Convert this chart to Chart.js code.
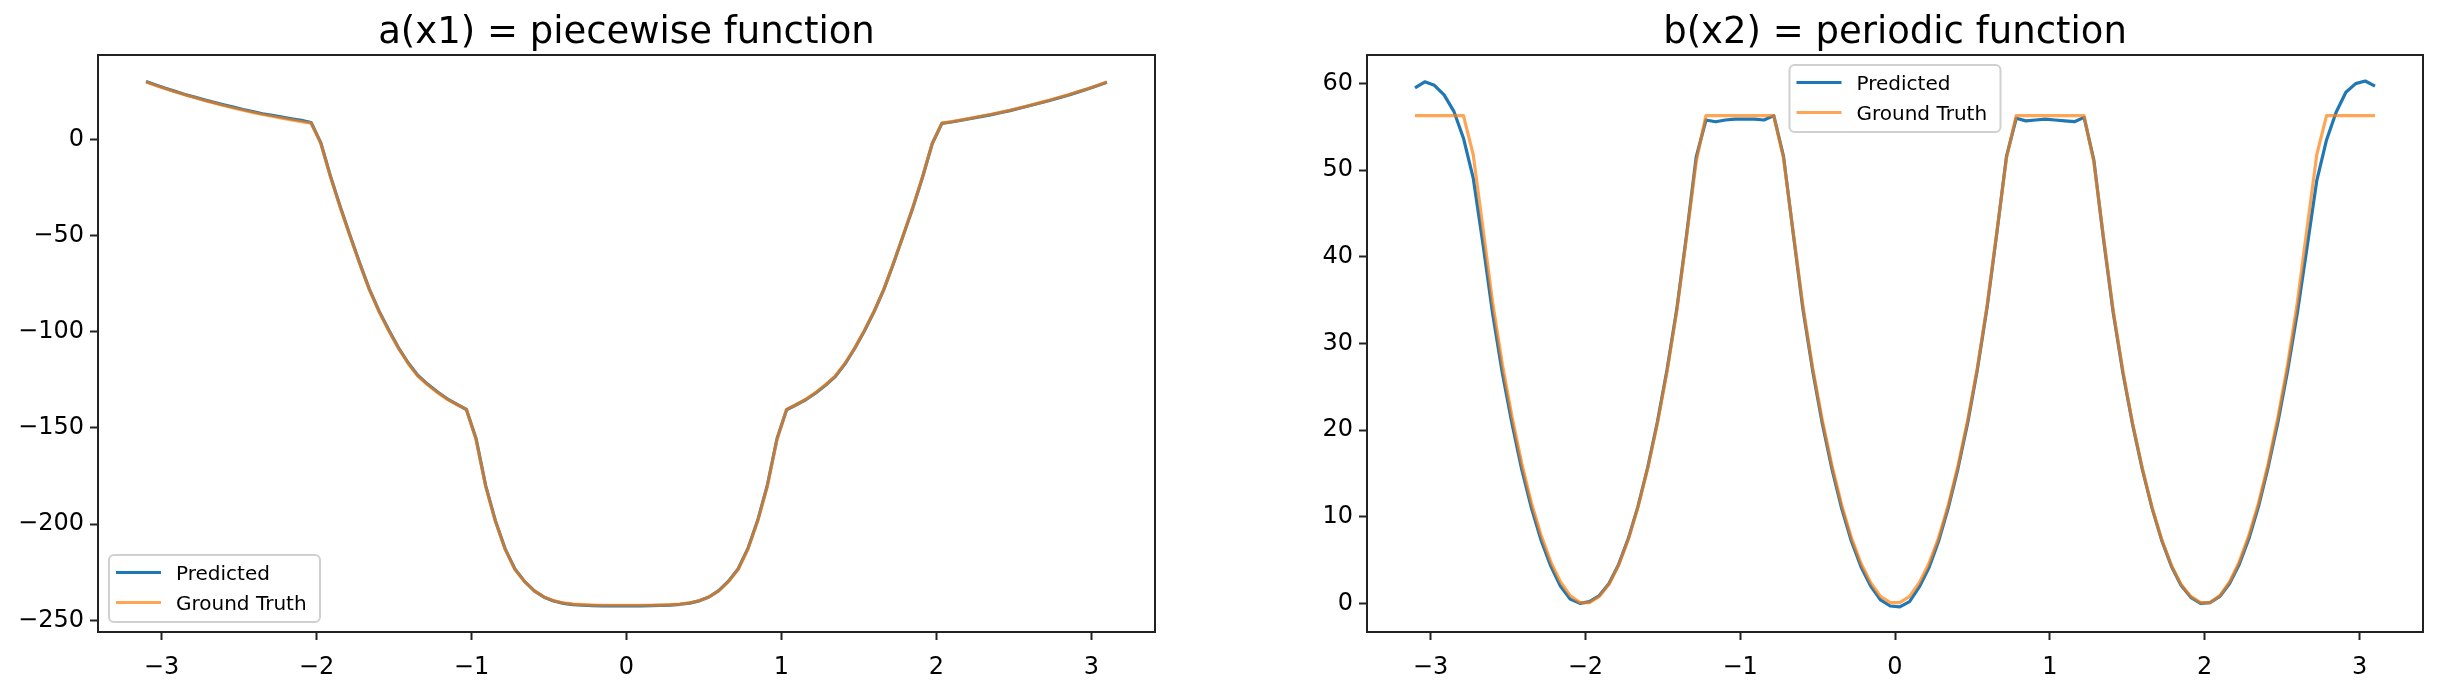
<!DOCTYPE html>
<html>
<head>
<meta charset="utf-8">
<script src="https://cdn.jsdelivr.net/npm/chart.js@4.4.1/dist/chart.umd.min.js"></script>
<style>
  html, body { margin: 0; padding: 0; background: #fff; }
  #wrap { position: relative; width: 2438px; height: 686px; }
  canvas { position: absolute; top: 0; }
</style>
</head>
<body>
<div id="wrap">
  <canvas id="chartA" width="1219" height="686" style="left:0"></canvas>
  <canvas id="chartB" width="1219" height="686" style="left:1219px"></canvas>
</div>
<script>
// sample positions (same for both panels)
const xs = [
  -3.100, -3.037, -2.975, -2.912, -2.849, -2.787, -2.724, -2.662, -2.599, -2.536,
  -2.474, -2.411, -2.348, -2.286, -2.223, -2.161, -2.098, -2.035, -1.973, -1.910,
  -1.847, -1.785, -1.722, -1.660, -1.597, -1.534, -1.472, -1.409, -1.347, -1.284,
  -1.221, -1.159, -1.096, -1.033, -0.971, -0.908, -0.846, -0.783, -0.720, -0.658,
  -0.595, -0.532, -0.470, -0.407, -0.345, -0.282, -0.219, -0.157, -0.094, -0.031,
  0.031, 0.094, 0.157, 0.219, 0.282, 0.345, 0.407, 0.470, 0.532, 0.595,
  0.658, 0.720, 0.783, 0.846, 0.908, 0.971, 1.033, 1.096, 1.159, 1.221,
  1.284, 1.347, 1.409, 1.472, 1.534, 1.597, 1.660, 1.722, 1.785, 1.847,
  1.910, 1.973, 2.035, 2.098, 2.161, 2.223, 2.286, 2.348, 2.411, 2.474,
  2.536, 2.599, 2.662, 2.724, 2.787, 2.849, 2.912, 2.975, 3.037, 3.100
];

// a(x1) = piecewise function
const aPred = [
  30.0, 28.2, 26.5, 24.9, 23.3, 21.9, 20.5, 19.2, 17.9, 16.7,
  15.5, 14.4, 13.3, 12.4, 11.5, 10.6, 9.8, 8.7, -1.7, -19.2,
  -35.1, -49.7, -64.2, -77.7, -89.2, -99.1, -108.2, -116.1, -122.6, -127.2,
  -131.2, -134.7, -137.6, -140.4, -155.4, -180.2, -198.2, -212.8, -223.3, -229.7,
  -234.6, -237.9, -239.9, -241.1, -241.8, -242.1, -242.3, -242.4, -242.4, -242.4,
  -242.4, -242.4, -242.3, -242.2, -242.0, -241.6, -241.0, -239.8, -237.8, -234.5,
  -229.6, -223.3, -212.7, -198.1, -180.0, -155.6, -140.5, -137.9, -135.2, -131.8,
  -127.8, -123.3, -116.8, -108.7, -99.7, -89.6, -78.1, -64.6, -50.1, -35.7,
  -19.7, -2.2, 8.3, 9.0, 9.9, 10.8, 11.8, 12.7, 13.8, 14.9,
  16.1, 17.4, 18.7, 20.0, 21.5, 22.9, 24.5, 26.1, 27.8, 29.6
];
const aTrue = [
  29.8, 28.0, 26.3, 24.7, 23.1, 21.7, 20.2, 18.9, 17.6, 16.3,
  15.1, 14.0, 12.9, 12.0, 11.0, 10.1, 9.2, 8.4, -2.0, -19.5,
  -35.5, -50.0, -64.5, -78.0, -89.5, -99.5, -108.5, -116.5, -123.0, -127.5,
  -131.5, -135.0, -137.8, -140.3, -156.0, -180.5, -198.5, -213.0, -223.5, -229.8,
  -234.6, -237.8, -239.7, -240.9, -241.5, -241.8, -242.0, -242.1, -242.1, -242.1,
  -242.1, -242.1, -242.1, -242.0, -241.8, -241.5, -240.9, -239.7, -237.8, -234.6,
  -229.8, -223.5, -213.0, -198.5, -180.5, -156.0, -140.3, -137.8, -135.0, -131.5,
  -127.5, -123.0, -116.5, -108.5, -99.5, -89.5, -78.0, -64.5, -50.0, -35.5,
  -19.5, -2.0, 8.4, 9.2, 10.1, 11.0, 12.0, 12.9, 14.0, 15.1,
  16.3, 17.6, 18.9, 20.2, 21.7, 23.1, 24.7, 26.3, 28.0, 29.8
];

// b(x2) = periodic function
const bPred = [
  59.5, 60.2, 59.8, 58.7, 56.8, 53.7, 49.1, 41.6, 33.5, 26.6,
  20.8, 15.5, 11.0, 7.3, 4.3, 2.0, 0.5, 0.0, 0.2, 0.9,
  2.3, 4.5, 7.5, 11.2, 15.7, 21.0, 27.0, 34.0, 42.4, 51.5,
  55.8, 55.6, 55.8, 55.9, 55.9, 55.9, 55.8, 56.3, 51.6, 42.8,
  34.0, 26.9, 20.8, 15.5, 11.0, 7.2, 4.2, 2.0, 0.4, -0.3,
  -0.4, 0.2, 1.9, 4.1, 7.2, 11.1, 15.6, 20.9, 27.0, 34.2,
  42.8, 51.6, 56.0, 55.7, 55.8, 55.9, 55.8, 55.7, 55.6, 56.1,
  51.2, 42.0, 33.6, 26.6, 20.7, 15.5, 11.0, 7.3, 4.3, 2.1,
  0.7, 0.0, 0.1, 0.8, 2.3, 4.5, 7.5, 11.2, 15.8, 21.0,
  26.9, 33.6, 41.2, 48.8, 53.5, 56.7, 59.0, 60.0, 60.3, 59.7
];
const bTrue = [
  56.3, 56.3, 56.3, 56.3, 56.3, 56.3, 51.8, 43.4, 34.8, 27.6,
  21.6, 16.2, 11.6, 7.9, 4.8, 2.5, 0.9, 0.1, 0.1, 0.8,
  2.2, 4.4, 7.4, 11.1, 15.6, 20.8, 26.8, 33.8, 42.2, 51.0,
  56.3, 56.3, 56.3, 56.3, 56.3, 56.3, 56.3, 56.3, 51.4, 42.9,
  34.4, 27.2, 21.2, 15.9, 11.4, 7.6, 4.6, 2.4, 0.8, 0.1,
  0.1, 0.8, 2.4, 4.6, 7.6, 11.4, 15.9, 21.2, 27.2, 34.4,
  42.9, 51.4, 56.3, 56.3, 56.3, 56.3, 56.3, 56.3, 56.3, 56.3,
  51.0, 42.2, 33.8, 26.8, 20.8, 15.6, 11.1, 7.4, 4.4, 2.2,
  0.8, 0.1, 0.1, 0.9, 2.5, 4.8, 7.9, 11.6, 16.2, 21.6,
  27.6, 34.8, 43.4, 51.8, 56.3, 56.3, 56.3, 56.3, 56.3, 56.3
];

const xTicks = [-3, -2, -1, 0, 1, 2, 3];
const aTicks = [-250, -200, -150, -100, -50, 0];
const bTicks = [0, 10, 20, 30, 40, 50, 60];

const FONT = '"DejaVu Sans", sans-serif';
const INK = '#222';

// spines, title and in-axes legend, matplotlib style
const panelPlugin = {
  id: 'panel',
  afterDraw(chart, args, opts) {
    const ctx = chart.ctx, a = chart.chartArea;
    ctx.save();
    ctx.strokeStyle = INK;
    ctx.lineWidth = 2;
    ctx.strokeRect(a.left, a.top, a.right - a.left, a.bottom - a.top);

    ctx.fillStyle = '#000';
    ctx.font = '37px ' + FONT;
    ctx.textAlign = 'center';
    ctx.textBaseline = 'alphabetic';
    ctx.fillText(opts.title, (a.left + a.right) / 2, 43);

    const w = 211, h = 67;
    let bx, by;
    if (opts.legendAt === 'lower left') {
      bx = a.left + 11; by = a.bottom - 10 - h;
    } else {
      bx = (a.left + a.right) / 2 - w / 2; by = a.top + 10;
    }
    ctx.beginPath();
    ctx.roundRect(bx, by, w, h, 5);
    ctx.fillStyle = 'rgba(255,255,255,0.8)';
    ctx.fill();
    ctx.strokeStyle = '#d0d0d0';
    ctx.lineWidth = 2;
    ctx.stroke();

    ctx.font = '20px ' + FONT;
    ctx.textAlign = 'left';
    chart.data.datasets.forEach((ds, i) => {
      const y = by + 17.5 + i * 30;
      ctx.strokeStyle = ds.borderColor;
      ctx.lineWidth = ds.borderWidth;
      ctx.beginPath();
      ctx.moveTo(bx + 7, y);
      ctx.lineTo(bx + 52, y);
      ctx.stroke();
      ctx.fillStyle = '#000';
      ctx.fillText(ds.label, bx + 67, y + 7);
    });
    ctx.restore();
  }
};

const fmt = v => (v < 0 ? '\u2212' + Math.abs(v) : String(v));

function axis(ticksArr, min, max, fit, pad) {
  return {
    type: 'linear',
    min: min,
    max: max,
    afterFit: fit,
    afterBuildTicks: s => { s.ticks = ticksArr.map(v => ({ value: v })); },
    ticks: { font: { family: FONT, size: 24 }, color: '#000', padding: pad, callback: fmt, maxRotation: 0 },
    grid: { drawOnChartArea: false, drawTicks: true, tickLength: 8, tickWidth: 2, tickColor: INK },
    border: { display: false }
  };
}

function makeChart(id, pred, truth, yTicks, yMin, yMax, yAxisW, padRight, title, legendAt) {
  return new Chart(document.getElementById(id), {
    type: 'line',
    data: {
      datasets: [
        { label: 'Predicted', data: xs.map((x, i) => ({ x: x, y: pred[i] })),
          borderColor: '#1f77b4', borderWidth: 3.2, pointRadius: 0, tension: 0,
          borderJoinStyle: 'round', order: 1 },
        { label: 'Ground Truth', data: xs.map((x, i) => ({ x: x, y: truth[i] })),
          borderColor: 'rgba(255,127,14,0.7)', borderWidth: 3.2, pointRadius: 0, tension: 0,
          borderJoinStyle: 'round', order: 0 }
      ]
    },
    options: {
      responsive: false,
      animation: false,
      layout: { padding: { top: 55, right: padRight, bottom: 0, left: 0 } },
      plugins: {
        legend: { display: false },
        tooltip: { enabled: false },
        panel: { title: title, legendAt: legendAt }
      },
      scales: {
        x: axis(xTicks, -3.41, 3.41, s => { s.height = 54; }, 13),
        y: axis(yTicks, yMin, yMax, s => { s.width = yAxisW; }, 6)
      }
    },
    plugins: [panelPlugin]
  });
}

makeChart('chartA', aPred, aTrue, aTicks, -256.0, 43.8, 98, 64, 'a(x1) = piecewise function', 'lower left');
makeChart('chartB', bPred, bTrue, bTicks, -3.3, 63.3, 148, 15, 'b(x2) = periodic function', 'upper center');
</script>
</body>
</html>
